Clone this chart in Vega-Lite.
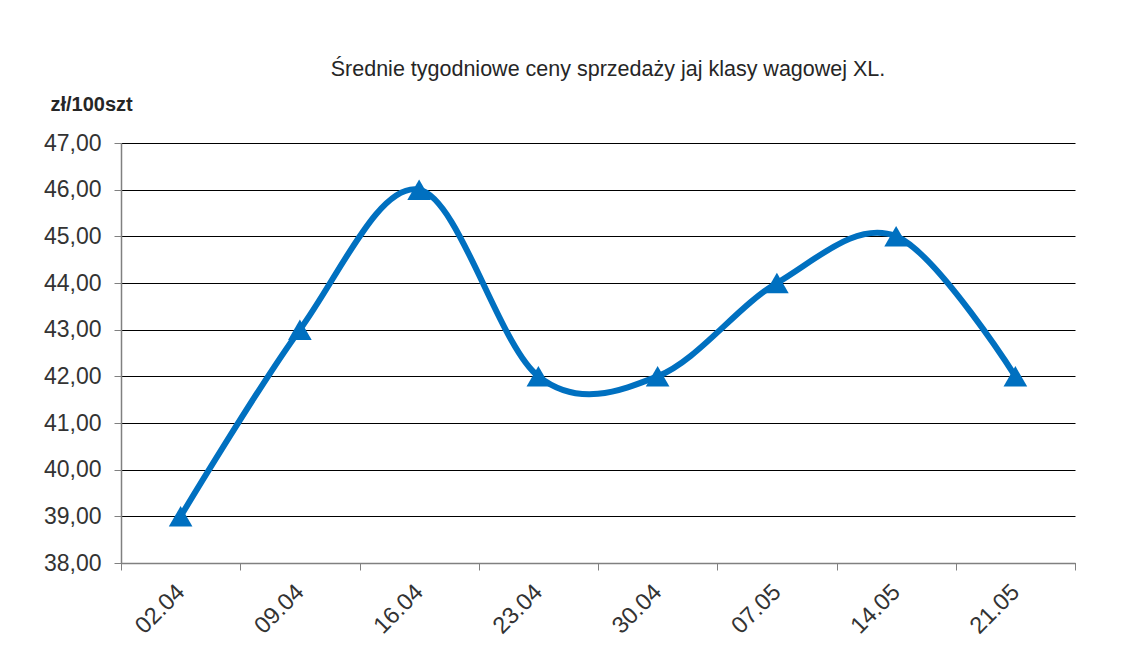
{
  "$schema": "https://vega.github.io/schema/vega-lite/v6.json",
  "width": 954,
  "height": 420,
  "autosize": "none",
  "padding": {"left": 121, "top": 143, "right": 64, "bottom": 94},
  "background": "white",
  "title": {
    "text": "Średnie tygodniowe ceny sprzedaży jaj klasy wagowej XL.",
    "font": "Liberation Sans",
    "fontSize": 21.5,
    "fontWeight": "normal",
    "color": "#262626",
    "anchor": "middle",
    "dx": 10,
    "offset": 14
  },
  "data": {
    "values": [
      {"date": "02.04", "price": 39},
      {"date": "09.04", "price": 43},
      {"date": "16.04", "price": 46},
      {"date": "23.04", "price": 42},
      {"date": "30.04", "price": 42},
      {"date": "07.05", "price": 44},
      {"date": "14.05", "price": 45},
      {"date": "21.05", "price": 42}
    ]
  },
  "encoding": {
    "x": {
      "field": "date",
      "type": "ordinal",
      "sort": null,
      "scale": {"paddingInner": 0, "paddingOuter": 0},
      "axis": {
        "title": null,
        "labelAngle": -45,
        "labelAlign": "right",
        "labelBaseline": "middle",
        "labelFont": "Liberation Sans",
        "labelFontSize": 23.5,
        "labelColor": "#333333",
        "labelPadding": 18,
        "tickBand": "extent",
        "tickSize": 7,
        "tickColor": "#808080",
        "domainColor": "#808080",
        "domainWidth": 1.5,
        "grid": false
      }
    },
    "y": {
      "field": "price",
      "type": "quantitative",
      "scale": {"domain": [38, 47], "nice": false, "zero": false},
      "axis": {
        "title": "zł/100szt",
        "titleAngle": 0,
        "titleAlign": "left",
        "titleBaseline": "alphabetic",
        "titleX": -71,
        "titleY": -33,
        "titleFont": "Liberation Sans",
        "titleFontSize": 20,
        "titleFontWeight": "bold",
        "titleColor": "#262626",
        "values": [38, 39, 40, 41, 42, 43, 44, 45, 46, 47],
        "format": ".2f",
        "labelExpr": "replace(datum.label, '.', ',')",
        "labelFont": "Liberation Sans",
        "labelFontSize": 23,
        "labelColor": "#333333",
        "labelPadding": 13,
        "tickSize": 7,
        "tickColor": "#808080",
        "domainColor": "#808080",
        "domainWidth": 1.5,
        "grid": true,
        "gridColor": "#000000",
        "gridWidth": 1
      }
    }
  },
  "layer": [
    {
      "mark": {"type": "line", "interpolate": "cardinal", "color": "#0070C0", "strokeWidth": 6}
    },
    {
      "mark": {"type": "point", "shape": "triangle-up", "filled": true, "color": "#0070C0", "opacity": 1, "size": 560}
    }
  ],
  "config": {"view": {"stroke": null}}
}
